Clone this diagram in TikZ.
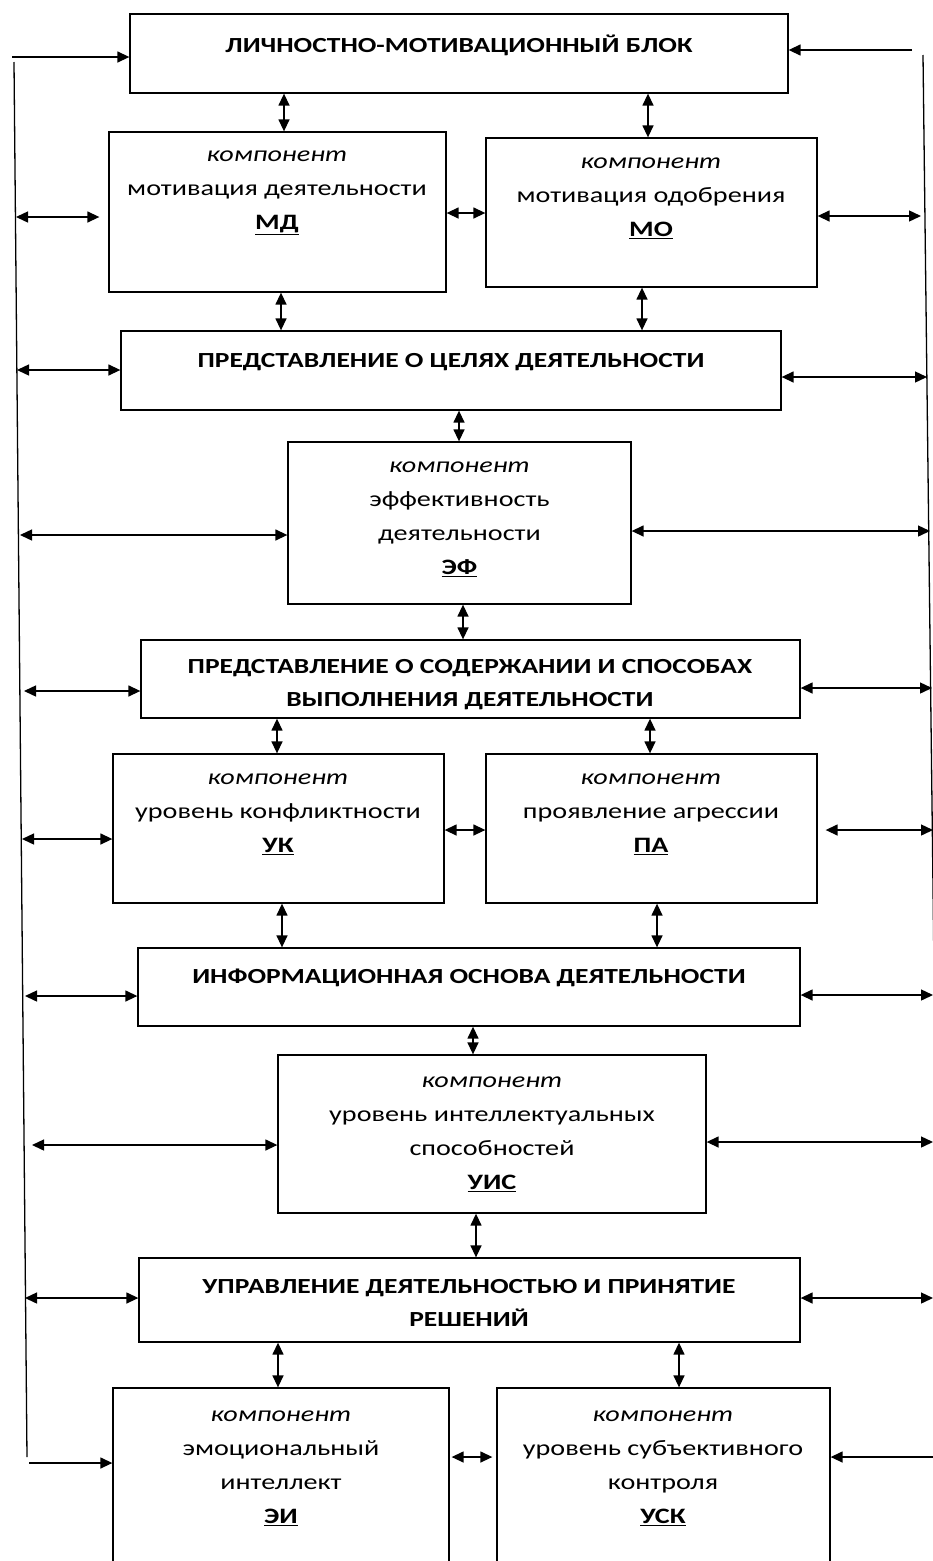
\documentclass[tikz,border=0pt]{standalone}
\usepackage{fontspec}
\setmainfont{Carlito}[FakeStretch=1.28]
\usetikzlibrary{arrows.meta}
\begin{document}
\begin{tikzpicture}[x=1pt,y=-1pt,
  box/.style={draw, line width=1.3pt, rectangle, inner sep=0pt},
  txt/.style={align=center, inner sep=0pt, font=\fontsize{22}{34}\selectfont},
  hdr/.style={align=center, inner sep=0pt, font=\fontsize{21.5}{33}\selectfont\bfseries},
  dbl/.style={line width=1.4pt, {Triangle[length=12pt,width=11pt]}-{Triangle[length=12pt,width=11pt]}},
  sgl/.style={line width=1.4pt, -{Triangle[length=12pt,width=11pt]}},
  side/.style={line width=1.3pt}]
\clip (0,0) rectangle (933,1561);
\fill[white] (0,0) rectangle (933,1561);
% boxes (center, width, height)
\node[box, minimum width=658, minimum height=79] (top) at (459,53.5) {};
\node[box, minimum width=337, minimum height=160] (md) at (277.5,212) {};
\node[box, minimum width=331, minimum height=149] (mo) at (651.5,212.5) {};
\node[box, minimum width=660, minimum height=79] (cel) at (451,370.5) {};
\node[box, minimum width=343, minimum height=162] (ef) at (459.5,523) {};
\node[box, minimum width=659, minimum height=78] (sod) at (470.5,679) {};
\node[box, minimum width=331, minimum height=149] (uk) at (278.5,828.5) {};
\node[box, minimum width=331, minimum height=149] (pa) at (651.5,828.5) {};
\node[box, minimum width=662, minimum height=78] (inf) at (469,987) {};
\node[box, minimum width=428, minimum height=158] (uis) at (492,1134) {};
\node[box, minimum width=661, minimum height=84] (upr) at (469.5,1300) {};
\node[box, minimum width=336, minimum height=230] (ei) at (281,1503) {};
\node[box, minimum width=333, minimum height=230] (usk) at (663.5,1503) {};
% texts
\node[hdr] (ttop) at (459,45) {ЛИЧНОСТНО-МОТИВАЦИОННЫЙ БЛОК};
\node[txt] (tmd) at (277,193) {\textit{компонент}\\мотивация деятельности\\\textbf{\underline{МД}}};
\node[txt] (tmo) at (651,198.5) {\textit{компонент}\\мотивация одобрения\\\textbf{\underline{МО}}};
\node[hdr] (tcel) at (451,362) {ПРЕДСТАВЛЕНИЕ О ЦЕЛЯХ ДЕЯТЕЛЬНОСТИ};
\node[txt] (tef) at (459.5,519.5) {\textit{компонент}\\эффективность\\деятельности\\\textbf{\underline{ЭФ}}};
\node[hdr] (tsod) at (470,685) {ПРЕДСТАВЛЕНИЕ О СОДЕРЖАНИИ И СПОСОБАХ\\ВЫПОЛНЕНИЯ ДЕЯТЕЛЬНОСТИ};
\node[txt] (tuk) at (278,814) {\textit{компонент}\\уровень конфликтности\\\textbf{\underline{УК}}};
\node[txt] (tpa) at (651,814) {\textit{компонент}\\проявление агрессии\\\textbf{\underline{ПА}}};
\node[hdr] (tinf) at (469,978) {ИНФОРМАЦИОННАЯ ОСНОВА ДЕЯТЕЛЬНОСТИ};
\node[txt] (tuis) at (492,1134.5) {\textit{компонент}\\уровень интеллектуальных\\способностей\\\textbf{\underline{УИС}}};
\node[hdr] (tupr) at (469,1303) {УПРАВЛЕНИЕ ДЕЯТЕЛЬНОСТЬЮ И ПРИНЯТИЕ\\РЕШЕНИЙ};
\node[txt] (tei) at (281,1468) {\textit{компонент}\\эмоциональный\\интеллект\\\textbf{\underline{ЭИ}}};
\node[txt] (tusk) at (663,1468) {\textit{компонент}\\уровень субъективного\\контроля\\\textbf{\underline{УСК}}};
% side lines
\coordinate (LT) at (14,62);
\coordinate (LB) at (27,1457);
\coordinate (RT) at (923,55);
\coordinate (RB) at (940,1470);
\draw[side] (LT) -- (LB);
\draw[side] (RT) -- (RB);
% top and bottom single arrows
\coordinate (TL) at (12,57);
\coordinate (TR) at (912,50);
\coordinate (BL) at (29,1463);
\coordinate (BR) at (935,1457);
\draw[sgl] (TL) -- (top.west |- TL);
\draw[sgl] (TR) -- (top.east |- TR);
\draw[sgl] (BL) -- (ei.west |- BL);
\draw[sgl] (BR) -- (usk.east |- BR);
% left side double arrows
\coordinate (L1) at (16,217);
\coordinate (L2) at (17,370);
\coordinate (L3) at (20,535);
\coordinate (L4) at (24,691);
\coordinate (L5) at (22,839);
\coordinate (L6) at (25,996);
\coordinate (L7) at (32,1145);
\coordinate (L8) at (25,1298);
\draw[dbl] (L1) -- ([xshift=-9pt]md.west |- L1);
\draw[dbl] (L2) -- (cel.west |- L2);
\draw[dbl] (L3) -- (ef.west |- L3);
\draw[dbl] (L4) -- (sod.west |- L4);
\draw[dbl] (L5) -- (uk.west |- L5);
\draw[dbl] (L6) -- (inf.west |- L6);
\draw[dbl] (L7) -- (uis.west |- L7);
\draw[dbl] (L8) -- (upr.west |- L8);
% right side double arrows
\coordinate (R1) at (921,216);
\coordinate (R2) at (927,377);
\coordinate (R3) at (930,531);
\coordinate (R4) at (932,688);
\coordinate (R5) at (933,830);
\coordinate (R6) at (933,995);
\coordinate (R7) at (933,1142);
\coordinate (R8) at (933,1298);
\draw[dbl] (mo.east |- R1) -- (R1);
\draw[dbl] (cel.east |- R2) -- (R2);
\draw[dbl] (ef.east |- R3) -- (R3);
\draw[dbl] (sod.east |- R4) -- (R4);
\draw[dbl] ([xshift=8pt]pa.east |- R5) -- (R5);
\draw[dbl] (inf.east |- R6) -- (R6);
\draw[dbl] (uis.east |- R7) -- (R7);
\draw[dbl] (upr.east |- R8) -- (R8);
% vertical connectors
\coordinate (v1) at (284,0);
\coordinate (v2) at (648,0);
\coordinate (v3) at (281,0);
\coordinate (v4) at (642,0);
\coordinate (v5) at (459,0);
\coordinate (v6) at (463,0);
\coordinate (v7) at (277,0);
\coordinate (v8) at (650,0);
\coordinate (v9) at (282,0);
\coordinate (v10) at (657,0);
\coordinate (v11) at (473,0);
\coordinate (v12) at (476,0);
\coordinate (v13) at (278,0);
\coordinate (v14) at (679,0);
\draw[dbl] (top.south -| v1) -- (md.north -| v1);
\draw[dbl] (top.south -| v2) -- (mo.north -| v2);
\draw[dbl] (md.south -| v3) -- (cel.north -| v3);
\draw[dbl] (mo.south -| v4) -- (cel.north -| v4);
\draw[dbl] (cel.south -| v5) -- (ef.north -| v5);
\draw[dbl] (ef.south -| v6) -- (sod.north -| v6);
\draw[dbl] (sod.south -| v7) -- (uk.north -| v7);
\draw[dbl] (sod.south -| v8) -- (pa.north -| v8);
\draw[dbl] (uk.south -| v9) -- (inf.north -| v9);
\draw[dbl] (pa.south -| v10) -- (inf.north -| v10);
\draw[dbl] (inf.south -| v11) -- (uis.north -| v11);
\draw[dbl] (uis.south -| v12) -- (upr.north -| v12);
\draw[dbl] (upr.south -| v13) -- (ei.north -| v13);
\draw[dbl] (upr.south -| v14) -- (usk.north -| v14);
% horizontal connectors between paired boxes
\coordinate (h1) at (0,213);
\coordinate (h2) at (0,830);
\coordinate (h3) at (0,1457);
\draw[dbl] (md.east |- h1) -- (mo.west |- h1);
\draw[dbl] (uk.east |- h2) -- (pa.west |- h2);
\draw[dbl] ([xshift=2pt]ei.east |- h3) -- ([xshift=-4pt]usk.west |- h3);
\end{tikzpicture}
\end{document}
